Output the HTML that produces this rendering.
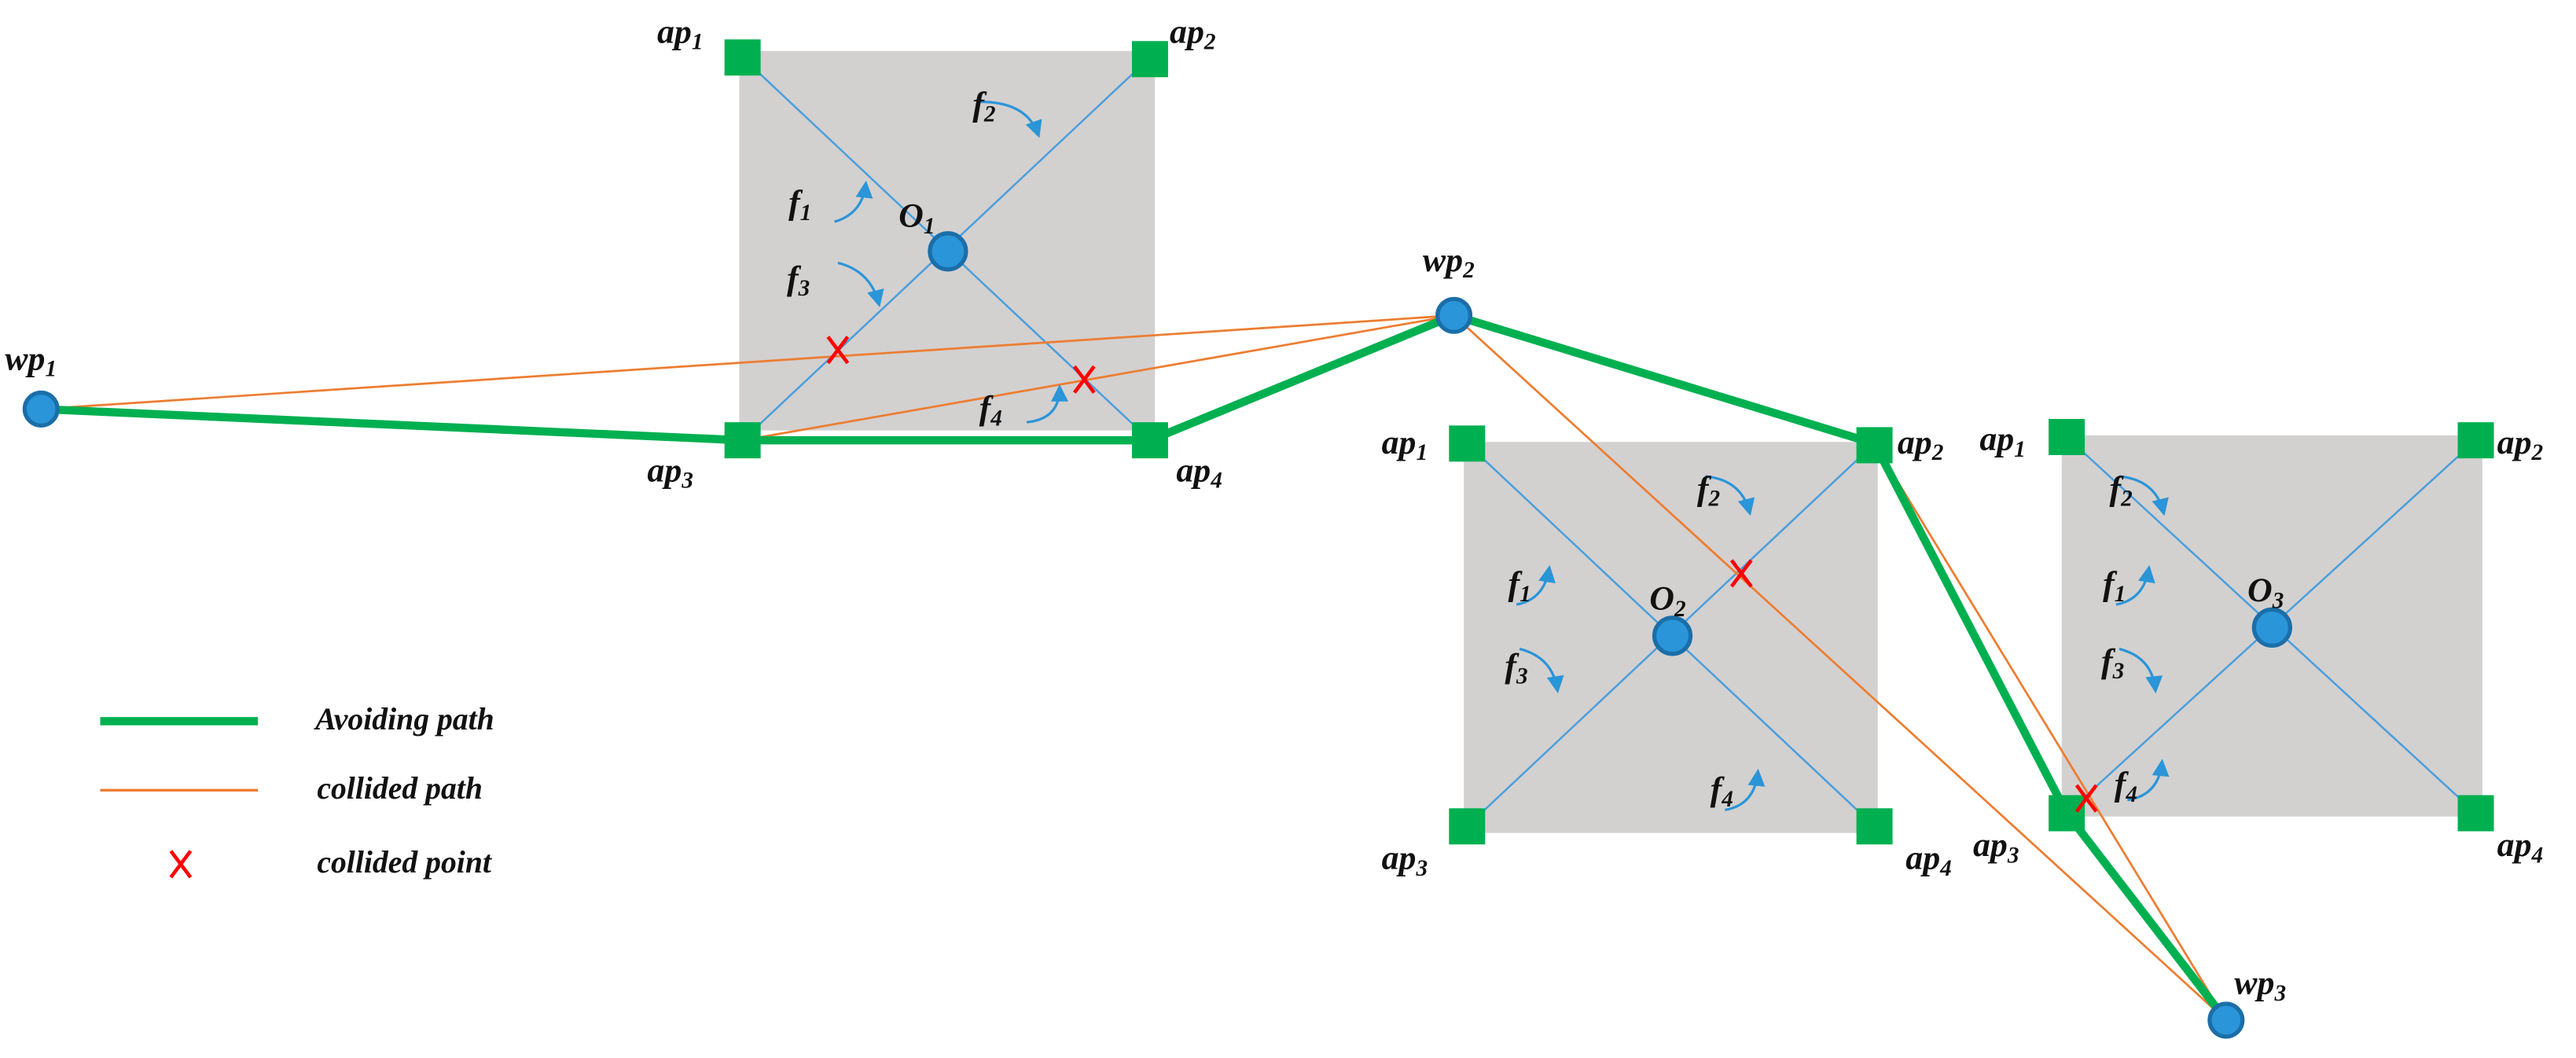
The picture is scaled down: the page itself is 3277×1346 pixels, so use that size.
<!DOCTYPE html>
<html><head><meta charset="utf-8"><style>html,body{margin:0;padding:0;background:#fff}svg{display:block}
text{font-family:"Liberation Serif",serif;font-style:italic;font-weight:bold;fill:#111}</style></head>
<body>
<svg width="3277" height="1346" viewBox="0 0 1568 644" preserveAspectRatio="none" xmlns="http://www.w3.org/2000/svg">
<defs><marker id="ar" viewBox="0 0 10 10" refX="8" refY="5" markerWidth="7" markerHeight="7" orient="auto"><path d="M0,0 L10,5 L0,10 z" fill="#2a95d8"/></marker></defs>
<rect x="450" y="31" width="253" height="231" fill="#d3d0d0"/>
<rect x="891" y="269" width="252" height="238" fill="#d3d0d0"/>
<rect x="1255" y="265" width="256" height="232" fill="#d3d0d0"/>
<g stroke="#4a9fdc" stroke-width="1.2">
<line x1="452" y1="35" x2="700" y2="268"/><line x1="700" y1="35" x2="452" y2="268"/>
<line x1="893" y1="270" x2="1141" y2="503"/><line x1="1141" y1="270" x2="893" y2="503"/>
<line x1="1258" y1="266" x2="1507" y2="495"/><line x1="1507" y1="268" x2="1258" y2="495"/>
</g>
<g stroke="#ed7d31" stroke-width="1.3" fill="none">
<line x1="25" y1="249" x2="885" y2="192"/>
<line x1="452" y1="268" x2="885" y2="192"/>
<line x1="885" y1="192" x2="1355" y2="621"/>
<line x1="1141" y1="270" x2="1355" y2="621"/>
</g>
<polyline points="25,249 452,268 700,268 885,192 1141,270 1258,495 1355,621" fill="none" stroke="#00b050" stroke-width="5" stroke-linejoin="miter"/>
<g fill="#00b050">
<rect x="441" y="24" width="22" height="22"/><rect x="689" y="25" width="22" height="22"/>
<rect x="441" y="257" width="22" height="22"/><rect x="689" y="257" width="22" height="22"/>
<rect x="882" y="259" width="22" height="22"/><rect x="1130" y="260" width="22" height="22"/>
<rect x="882" y="492" width="22" height="22"/><rect x="1130" y="492" width="22" height="22"/>
<rect x="1247" y="255" width="22" height="22"/><rect x="1496" y="257" width="22" height="22"/>
<rect x="1247" y="484" width="22" height="22"/><rect x="1496" y="484" width="22" height="22"/>
</g>
<g fill="#2a95d8" stroke="#1b6ea8" stroke-width="2.5">
<circle cx="25" cy="249" r="10"/><circle cx="885" cy="192" r="10"/><circle cx="1355" cy="621" r="10"/>
<circle cx="577" cy="153" r="11"/><circle cx="1018" cy="387" r="11"/><circle cx="1383" cy="382" r="11"/>
</g>
<g stroke="#ff0000" stroke-width="2.2">
<path d="M504,205 L516,221 M516,205 L504,221"/>
<path d="M654,223 L666,239 M666,223 L654,239"/>
<path d="M1054,341 L1066,357 M1066,341 L1054,357"/>
<path d="M1264,478 L1276,494 M1276,478 L1264,494"/>
<path d="M104,518 L116,534 M116,518 L104,534"/>
</g>
<g stroke="#2a95d8" stroke-width="1.5" fill="none" marker-end="url(#ar)">
<path d="M597,62 Q625,62 632,82"/><path d="M508,135 Q525,130 527,112"/><path d="M510,160 Q530,165 535,185"/><path d="M625,257 Q645,255 645,236"/>
<path d="M1038,290 Q1060,292 1065,312"/><path d="M923,368 Q940,365 943,346"/><path d="M925,395 Q945,400 948,420"/><path d="M1050,493 Q1068,490 1070,470"/>
<path d="M1290,290 Q1312,292 1317,312"/><path d="M1288,368 Q1305,365 1308,346"/><path d="M1290,395 Q1310,400 1312,420"/><path d="M1295,487 Q1314,484 1316,464"/>
</g>
<g font-size="21">
<text x="400" y="26">ap<tspan font-size="14" dy="4">1</tspan></text>
<text x="712" y="26">ap<tspan font-size="14" dy="4">2</tspan></text>
<text x="394" y="293">ap<tspan font-size="14" dy="4">3</tspan></text>
<text x="716" y="293">ap<tspan font-size="14" dy="4">4</tspan></text>
<text x="841" y="276">ap<tspan font-size="14" dy="4">1</tspan></text>
<text x="1155" y="276">ap<tspan font-size="14" dy="4">2</tspan></text>
<text x="841" y="529">ap<tspan font-size="14" dy="4">3</tspan></text>
<text x="1160" y="529">ap<tspan font-size="14" dy="4">4</tspan></text>
<text x="1205" y="274">ap<tspan font-size="14" dy="4">1</tspan></text>
<text x="1520" y="276">ap<tspan font-size="14" dy="4">2</tspan></text>
<text x="1201" y="521">ap<tspan font-size="14" dy="4">3</tspan></text>
<text x="1520" y="521">ap<tspan font-size="14" dy="4">4</tspan></text>
<text x="3" y="225">wp<tspan font-size="14" dy="4">1</tspan></text>
<text x="866" y="165">wp<tspan font-size="14" dy="4">2</tspan></text>
<text x="1360" y="605">wp<tspan font-size="14" dy="4">3</tspan></text>
<text x="547" y="138">O<tspan font-size="14" dy="4">1</tspan></text>
<text x="1004" y="371">O<tspan font-size="14" dy="4">2</tspan></text>
<text x="1368" y="366">O<tspan font-size="14" dy="4">3</tspan></text>
<text x="592" y="70">f<tspan font-size="14" dy="4">2</tspan></text>
<text x="480" y="130">f<tspan font-size="14" dy="4">1</tspan></text>
<text x="479" y="176">f<tspan font-size="14" dy="4">3</tspan></text>
<text x="596" y="255">f<tspan font-size="14" dy="4">4</tspan></text>
<text x="1033" y="304">f<tspan font-size="14" dy="4">2</tspan></text>
<text x="918" y="362">f<tspan font-size="14" dy="4">1</tspan></text>
<text x="916" y="412">f<tspan font-size="14" dy="4">3</tspan></text>
<text x="1041" y="487">f<tspan font-size="14" dy="4">4</tspan></text>
<text x="1284" y="304">f<tspan font-size="14" dy="4">2</tspan></text>
<text x="1280" y="362">f<tspan font-size="14" dy="4">1</tspan></text>
<text x="1279" y="409">f<tspan font-size="14" dy="4">3</tspan></text>
<text x="1287" y="484">f<tspan font-size="14" dy="4">4</tspan></text>
</g>
<line x1="61" y1="439" x2="157" y2="439" stroke="#00b050" stroke-width="5"/>
<line x1="61" y1="481" x2="157" y2="481" stroke="#ed7d31" stroke-width="1.6"/>
<g font-size="19">
<text x="192" y="444">Avoiding path</text>
<text x="193" y="486">collided path</text>
<text x="193" y="531">collided point</text>
</g>
</svg>
</body></html>
